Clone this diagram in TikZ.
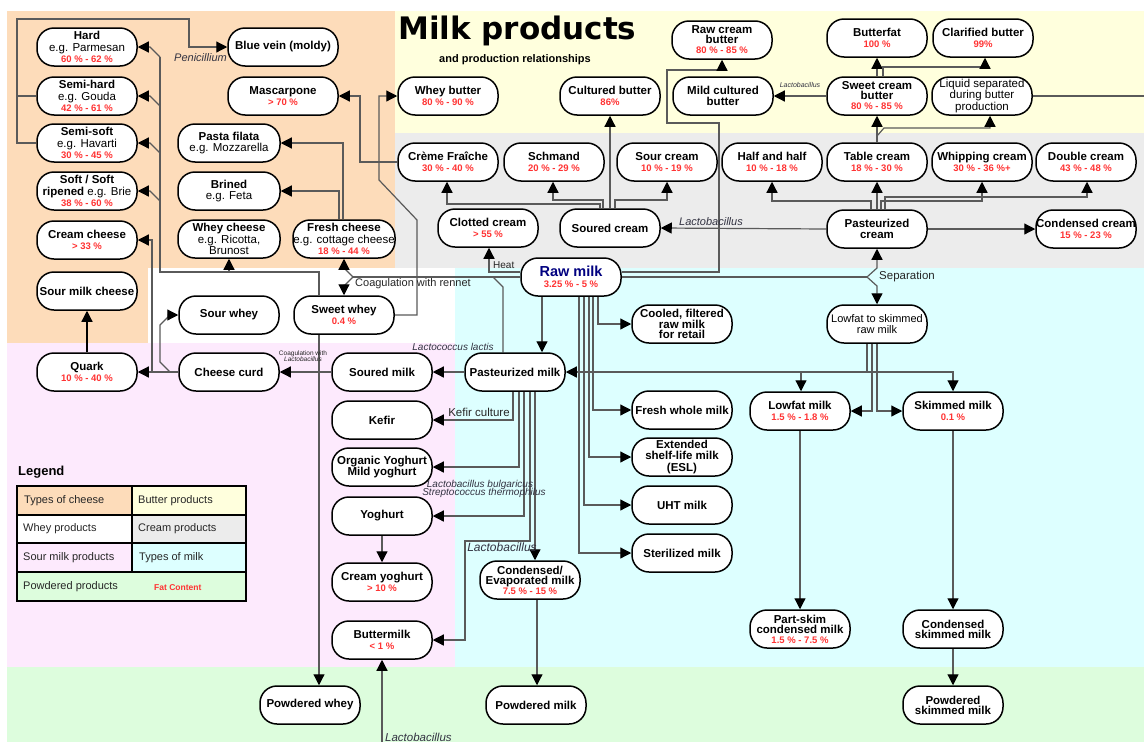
\documentclass[tikz,border=0pt]{standalone}
\usepackage{fontspec}
\setmainfont{Liberation Sans}
\newfontfamily\titlefont{DejaVu Sans}
\usetikzlibrary{arrows.meta}
\definecolor{cheese}{RGB}{253,220,186}
\definecolor{butter}{RGB}{255,255,221}
\definecolor{cream}{RGB}{236,236,236}
\definecolor{milk}{RGB}{221,255,255}
\definecolor{sour}{RGB}{253,234,253}
\definecolor{powder}{RGB}{221,253,221}
\definecolor{pct}{RGB}{255,50,50}
\definecolor{rawblue}{RGB}{0,0,128}
\definecolor{lc}{RGB}{90,90,90}
\definecolor{lblc}{RGB}{50,50,65}
\pgfdeclarelayer{bgl}\pgfdeclarelayer{lnl}\pgfsetlayers{bgl,lnl,main}
\newcommand{\myeg}[1]{{\mdseries #1}}
\newcommand{\mypct}[1]{{\fontsize{9.5}{10}\selectfont\bfseries\color{pct}#1}}
\begin{document}
\begin{tikzpicture}[x=1pt,y=-1pt,
  box/.style={draw=black,line width=1.5pt,fill=white,rounded corners=17pt,minimum width=100pt,minimum height=38pt,inner sep=0pt,align=center,font=\fontsize{11.5}{11.5}\selectfont\bfseries},
  tight/.style={font=\fontsize{11.5}{10}\selectfont\bfseries},
  vtight/.style={font=\fontsize{11.5}{9.5}\selectfont\mdseries},
  ln/.style={draw=lc,line width=1.2pt},
  arr/.style={ln,-{Triangle[length=11pt,width=11pt,color=black]}},
  lbl/.style={font=\fontsize{11}{12}\selectfont\itshape,text=lblc,inner sep=0pt},
  ulbl/.style={font=\fontsize{11}{12}\selectfont,text=black!85,inner sep=0pt},
  legcell/.style={draw=black,line width=1.5pt},
  legtxt/.style={anchor=west,font=\fontsize{11}{12}\selectfont,text=black!85,inner sep=0pt}
]
\useasboundingbox (0,0) rectangle (1144,742);
\begin{pgfonlayer}{bgl}
\fill[white] (0,0) rectangle (1144,742);
\fill[cheese] (7,11) rectangle (395,268);
\fill[cheese] (7,268) rectangle (148,343);
\fill[butter] (395,11) rectangle (1144,133);
\fill[cream] (395,133) rectangle (1144,268);
\fill[milk] (455,268) rectangle (1144,667);
\fill[sour] (7,343) rectangle (455,667);
\fill[powder] (7,667) rectangle (1144,742);
\end{pgfonlayer}

% title
\node[anchor=west,inner sep=0pt,font=\titlefont\fontsize{31}{32}\selectfont\bfseries] (title) at (398,31) {Milk products};
\node[anchor=west,inner sep=0pt,font=\fontsize{11}{12}\selectfont\bfseries] (subtitle) at (439,60) {and production relationships};

% cheese
\node[box] (hard) at (87,47) {Hard\\\myeg{e.g. Parmesan}\\\mypct{60 \% - 62 \%}};
\node[box] (semihard) at (87,96) {Semi-hard\\\myeg{e.g. Gouda}\\\mypct{42 \% - 61 \%}};
\node[box] (semisoft) at (87,143) {Semi-soft\\\myeg{e.g. Havarti}\\\mypct{30 \% - 45 \%}};
\node[box] (soft) at (87,191) {Soft / Soft\\ripened \myeg{e.g. Brie}\\\mypct{38 \% - 60 \%}};
\node[box] (creamch) at (87,240) {Cream cheese\\\mypct{> 33 \%}};
\node[box] (sourmilkch) at (87,291) {Sour milk cheese};
\node[box] (quark) at (87,372) {Quark\\\mypct{10 \% - 40 \%}};
\node[box,minimum width=110pt] (bluevein) at (283,47) {Blue vein (moldy)};
\node[box,minimum width=110pt] (mascarpone) at (283,96) {Mascarpone\\\mypct{> 70 \%}};
\node[box,minimum width=102pt] (pasta) at (229,143) {Pasta filata\\\myeg{e.g. Mozzarella}};
\node[box,minimum width=102pt] (brined) at (229,191) {Brined\\\myeg{e.g. Feta}};
\node[box,minimum width=102pt,tight] (wheych) at (229,239) {Whey cheese\\\myeg{e.g. Ricotta,}\\\myeg{Brunost}};
\node[box,minimum width=102pt] (freshch) at (344,239) {Fresh cheese\\\myeg{e.g. cottage cheese}\\\mypct{18 \% - 44 \%}};
\node[box] (sourwhey) at (229,315) {Sour whey};
\node[box] (sweetwhey) at (344,315) {Sweet whey\\\mypct{0.4 \%}};
\node[box] (curd) at (229,372) {Cheese curd};

% butter
\node[box] (wheybutter) at (448,96) {Whey butter\\\mypct{80 \% - 90 \%}};
\node[box] (culturedb) at (610,96) {Cultured butter\\\mypct{86\%}};
\node[box,tight] (rawcreamb) at (722,40) {Raw cream\\butter\\\mypct{80 \% - 85 \%}};
\node[box] (mildb) at (723,96) {Mild cultured\\butter};
\node[box] (butterfat) at (877,38) {Butterfat\\\mypct{100 \%}};
\node[box] (clarified) at (983,38) {Clarified butter\\\mypct{99\%}};
\node[box,tight] (sweetcb) at (877,96) {Sweet cream\\butter\\\mypct{80 \% - 85 \%}};
\node[box,vtight] (liquidsep) at (982,96) {Liquid separated\\during butter\\production};

% cream
\node[box] (cremef) at (448,162) {Crème Fraîche\\\mypct{30 \% - 40 \%}};
\node[box] (schmand) at (554,162) {Schmand\\\mypct{20 \% - 29 \%}};
\node[box] (sourcream) at (667,162) {Sour cream\\\mypct{10 \% - 19 \%}};
\node[box] (halfhalf) at (772,162) {Half and half\\\mypct{10 \% - 18 \%}};
\node[box] (tablecream) at (877,162) {Table cream\\\mypct{18 \% - 30 \%}};
\node[box] (whipping) at (982,162) {Whipping cream\\\mypct{30 \% - 36 \%+}};
\node[box] (doublecr) at (1086,162) {Double cream\\\mypct{43 \% - 48 \%}};
\node[box] (clotted) at (488,228) {Clotted cream\\\mypct{> 55 \%}};
\node[box] (souredcr) at (610,228) {Soured cream};
\node[box] (pastcream) at (877,229) {Pasteurized\\cream};
\node[box] (condcream) at (1086,229) {Condensed cream\\\mypct{15 \% - 23 \%}};

% milk
\node[box] (rawmilk) at (571,277) {{\fontsize{14.5}{15}\selectfont\color{rawblue}Raw milk}\\\mypct{3.25 \% - 5 \%}};
\node[box,tight] (cooled) at (682,324) {Cooled, filtered\\raw milk\\for retail};
\node[box,vtight,font=\fontsize{11}{10.5}\selectfont\mdseries] (lowskim) at (877,324) {Lowfat to skimmed\\raw milk};
\node[box] (pastmilk) at (515,372) {Pasteurized milk};
\node[box] (souredmilk) at (382,372) {Soured milk};
\node[box] (kefir) at (382,420) {Kefir};
\node[box] (organic) at (382,467) {Organic Yoghurt\\Mild yoghurt};
\node[box] (yoghurt) at (382,516) {Yoghurt};
\node[box] (creamyog) at (382,582) {Cream yoghurt\\\mypct{> 10 \%}};
\node[box] (buttermilk) at (382,640) {Buttermilk\\\mypct{< 1 \%}};
\node[box] (freshwhole) at (682,410) {Fresh whole milk};
\node[box] (esl) at (682,457) {Extended\\shelf-life milk\\(ESL)};
\node[box] (uht) at (682,505) {UHT milk};
\node[box] (steril) at (682,553) {Sterilized milk};
\node[box] (lowfat) at (800,411) {Lowfat milk\\\mypct{1.5 \% - 1.8 \%}};
\node[box] (skimmed) at (953,411) {Skimmed milk\\\mypct{0.1 \%}};
\node[box,tight] (condevap) at (530,580) {Condensed/\\Evaporated milk\\\mypct{7.5 \% - 15 \%}};
\node[box,tight] (partskim) at (800,629) {Part-skim\\condensed milk\\\mypct{1.5 \% - 7.5 \%}};
\node[box,tight] (condskim) at (953,629) {Condensed\\skimmed milk};

% powdered
\node[box] (powwhey) at (310,705) {Powdered whey};
\node[box] (powmilk) at (536,705) {Powdered milk};
\node[box,tight] (powskim) at (953,705) {Powdered\\skimmed milk};

\coordinate (edgeR) at (1144,96);
\coordinate (bmsrc) at (382,742);

\begin{pgfonlayer}{lnl}
% penicillium
\draw[arr] (semihard.west) -| (17,19) -| (189,47) -- (bluevein.west);
\draw[ln] (semisoft.west) -| (17,96);
% cheese bus from sweet whey
\draw[ln] (sweetwhey.north -| 319,0) -- (319,272) -- (160,272) -- (160,57);
\draw[arr] (sweetwhey.south -| 319,0) -- (powwhey.north -| 319,0);
\draw[arr] (229,272) -- (wheych.south);
\draw[arr] (160,57) -- (150,47) -- (hard.east);
\draw[arr] (160,106) -- (150,96) -- (semihard.east);
\draw[arr] (160,153) -- (150,143) -- (semisoft.east);
\draw[arr] (160,201) -- (150,191) -- (soft.east);
% curd
\draw[arr] (curd.west) -- (quark.east);
\draw[arr] (152,372) -- (152,240) -- (creamch.east);
\draw[arr] (170,372) -- (160,362) -- (160,325) -- (170,315) -- (sourwhey.west);
\draw[draw=black,line width=1.2pt,-{Triangle[length=11pt,width=11pt]}] (quark.north) -- (sourmilkch.south);
\draw[arr] (souredmilk.west) -- (curd.east);
% pasteurized milk
\draw[arr] (pastmilk.west) -- (souredmilk.east);
\draw[arr] (pastmilk.south -| 513,0) |- (kefir.east);
\draw[arr] (pastmilk.south -| 519,0) |- (organic.east);
\draw[arr] (pastmilk.south -| 524,0) |- (yoghurt.east);
\draw[arr] (pastmilk.south -| 530,0) -- (530,541) -- (465,541) |- (buttermilk.east);
\draw[arr] (pastmilk.south -| 535,0) -- (condevap.north -| 535,0);
\draw[arr] (condevap.south -| 537,0) -- (powmilk.north -| 537,0);
\draw[arr] (yoghurt.south) -- (creamyog.north);
\draw[arr] (bmsrc) -- (buttermilk.south);
% raw milk
\draw[arr] (rawmilk.south -| 542,0) -- (pastmilk.north -| 542,0);
\draw[arr] (rawmilk.south -| 598,0) |- (cooled.west);
\draw[arr] (rawmilk.south -| 593,0) |- (freshwhole.west);
\draw[arr] (rawmilk.south -| 589,0) |- (esl.west);
\draw[arr] (rawmilk.south -| 584,0) |- (uht.west);
\draw[arr] (rawmilk.south -| 579,0) |- (steril.west);
\draw[arr] ([yshift=5pt]rawmilk.west) -| (clotted.south -| 489,0);
\draw[ln] (rawmilk.west) -- (353,277);
\draw[arr] (353,277) -- (344,268) -- (freshch.south);
\draw[arr] (353,277) -- (344,286) -- (sweetwhey.north);
\draw[ln] (pastmilk.north -| 503,0) -- (503,287) -- (493,277);
\draw[arr] ([yshift=5pt]rawmilk.east) -| (719,123) -| (667,70) -| (rawcreamb.south);
\draw[ln] (rawmilk.east) -- (867,277);
\draw[arr] (867,277) -- (877,268) -- (pastcream.south);
\draw[arr] (867,277) -- (877,286) -- (lowskim.north);
% lowfat to skimmed
\draw[arr] (lowskim.south -| 867,0) -- (867,372) -- (pastmilk.east);
\draw[arr] (801,372) -- (lowfat.north -| 801,0);
\draw[arr] (867,372) -- (953,372) -- (skimmed.north);
\draw[arr] (lowskim.south -| 872,0) |- (lowfat.east);
\draw[arr] (lowskim.south -| 877,0) |- (skimmed.west);
\draw[arr] (lowfat.south) -- (partskim.north);
\draw[arr] (skimmed.south) -- (condskim.north);
\draw[arr] (condskim.south) -- (powskim.north);
% cream
\draw[arr] (pastcream.east) -- (condcream.west);
\draw[arr] (pastcream.west) -- (souredcr.east);
\draw[arr] (pastcream.north) -- (tablecream.south);
\draw[arr] (pastcream.north -| 871,0) |- (772,201) -- (halfhalf.south);
\draw[arr] (pastcream.north -| 881,0) |- (982,201) -- (whipping.south);
\draw[arr] (pastcream.north -| 885,0) |- (1087,197) -- (doublecr.south -| 1087,0);
\draw[arr] (tablecream.north) -- (sweetcb.south);
\draw[arr] (877,136) -- (884,128) -| (liquidsep.south -| 990,0);
\draw[arr] (sweetcb.north) -- (butterfat.south);
\draw[arr] (sweetcb.north -| 883,0) |- (985,67) -- (clarified.south -| 985,0);
\draw[arr] (sweetcb.west) -- (mildb.east);
\draw[ln] (liquidsep.east) -- (edgeR);
\draw[arr] (souredcr.north) -- (culturedb.south);
\draw[arr] (souredcr.north -| 615,0) |- (667,200) -- (sourcream.south);
\draw[arr] (souredcr.north -| 603,0) |- (553,200) -- (schmand.south -| 553,0);
\draw[arr] (souredcr.north -| 600,0) |- (447,204) -- (cremef.south -| 447,0);
\draw[arr] (cremef.west) -| (360,96) -- (mascarpone.east);
\draw[arr] (sweetwhey.east) -| (417,220) -- (379,180) |- (wheybutter.west);
\draw[arr] (freshch.north -| 343,0) |- (pasta.east);
\draw[arr] (freshch.north -| 339,0) |- (brined.east);
\end{pgfonlayer}

% labels
\node[lbl,anchor=east] (lpen) at (227,58) {Penicillium};
\node[lbl] (llac1) at (711,222) {Lactobacillus};
\node[lbl,font=\fontsize{7}{8}\selectfont\itshape] (llac2) at (800,85) {Lactobacillus};
\node[ulbl,anchor=west,font=\fontsize{10}{10}\selectfont] (lheat) at (493,265) {Heat};
\node[ulbl,anchor=west] (lrennet) at (355,284) {Coagulation with rennet};
\node[ulbl,anchor=west,font=\fontsize{11.5}{12}\selectfont] (lsep) at (879,277) {Separation};
\node[lbl,font=\fontsize{10}{11}\selectfont\itshape] (llactis) at (453,347) {Lactococcus lactis};
\node[ulbl,align=center,font=\fontsize{6.5}{6.5}\selectfont] (lcoag) at (303,356) {Coagulation with\\\textit{Lactobacillus}};
\node[ulbl,font=\fontsize{11.5}{12}\selectfont] (lkefir) at (479,412) {Kefir culture};
\node[lbl,font=\fontsize{10}{11}\selectfont\itshape] (lbulg) at (480,485) {Lactobacillus bulgaricus};
\node[lbl,font=\fontsize{10}{11}\selectfont\itshape] (lstrep) at (484,493) {Streptococcus thermophilus};
\node[lbl,font=\fontsize{12}{12}\selectfont\itshape] (llac3) at (502,547) {Lactobacillus};
\node[lbl,anchor=west,font=\fontsize{11.5}{12}\selectfont\itshape] (llac4) at (385,737) {Lactobacillus};

% legend
\node[anchor=west,inner sep=0pt,font=\fontsize{13}{14}\selectfont\bfseries] (legtitle) at (18,472) {Legend};
\filldraw[legcell,fill=cheese] (17,486) rectangle (132,515);
\filldraw[legcell,fill=butter] (132,486) rectangle (246,515);
\filldraw[legcell,fill=white] (17,515) rectangle (132,543);
\filldraw[legcell,fill=cream] (132,515) rectangle (246,543);
\filldraw[legcell,fill=sour] (17,543) rectangle (132,572);
\filldraw[legcell,fill=milk] (132,543) rectangle (246,572);
\filldraw[legcell,fill=powder] (17,572) rectangle (246,601);
\node[legtxt] (lg1) at (24,501) {Types of cheese};
\node[legtxt] (lg2) at (138,501) {Butter products};
\node[legtxt] (lg3) at (23,529) {Whey products};
\node[legtxt] (lg4) at (138,529) {Cream products};
\node[legtxt] (lg5) at (23,558) {Sour milk products};
\node[legtxt] (lg6) at (139,558) {Types of milk};
\node[legtxt] (lg7) at (23,587) {Powdered products};
\node[anchor=west,inner sep=0pt,font=\fontsize{8.5}{9}\selectfont\bfseries,text=pct] (lg8) at (154,588) {Fat Content};
\end{tikzpicture}
\end{document}
